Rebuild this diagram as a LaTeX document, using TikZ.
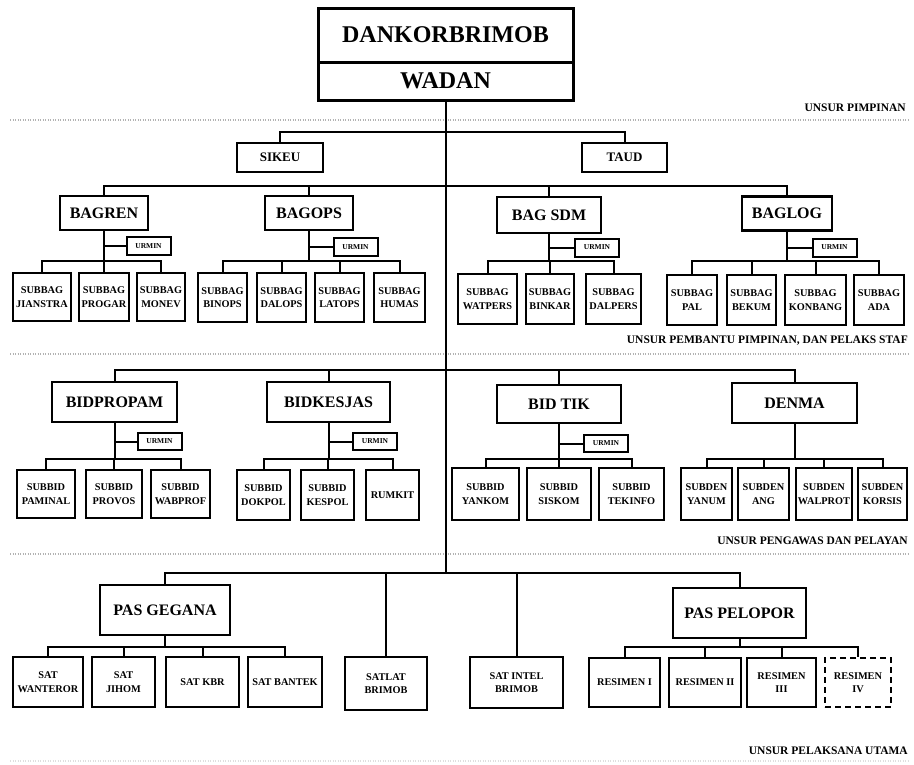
\documentclass[tikz,border=0pt]{standalone}
\usepackage{fontspec}
\setmainfont{Liberation Serif}
\usepackage{tikz}

\begin{document}
\begin{tikzpicture}[x=1pt, y=-1pt,
        topbox/.style={draw, line width=3pt, inner sep=0pt, minimum width=255pt,
            font=\fontsize{24}{26}\selectfont\bfseries},
        mainbox/.style={draw, line width=2.8pt, inner sep=0pt, align=center,
            font=\fontsize{16}{18}\selectfont\bfseries},
        staffbox/.style={mainbox, line width=2.4pt, font=\fontsize{13}{15}\selectfont\bfseries},
        subbox/.style={draw, line width=2.5pt, inner sep=0pt, align=center,
            font=\fontsize{10.3}{13.5}\selectfont\bfseries},
        urminbox/.style={draw, line width=2pt, inner sep=0pt, minimum width=44pt,
            minimum height=18pt, font=\fontsize{7.5}{8}\selectfont\bfseries},
        link/.style={line width=2pt},
        zoneline/.style={gray!60, line width=1.2pt, dash pattern=on 1pt off 1.5pt},
        zonelabel/.style={anchor=east, inner sep=0pt, font=\fontsize{11.5}{13}\selectfont\bfseries}]

        \useasboundingbox (0,0) rectangle (914,764);

        % zones
        \draw[zoneline] (10,120) -- (910,120);
        \draw[zoneline] (10,354) -- (910,354);
        \draw[zoneline] (10,554) -- (910,554);
        \draw[zoneline, gray!25] (10,761) -- (910,761);
        \node[zonelabel] (pimpinan) at (906,108) {UNSUR PIMPINAN};
        \node[zonelabel] (pembantu) at (908,341) {UNSUR PEMBANTU PIMPINAN, DAN PELAKS STAF};
        \node[zonelabel] (pengawas) at (908,541) {UNSUR PENGAWAS DAN PELAYAN};
        \node[zonelabel] (pelaksana) at (908,751) {UNSUR PELAKSANA UTAMA};

        % pimpinan
        \node[topbox, minimum height=54pt] (dankor) at (445.5,35) {DANKORBRIMOB};
        \node[topbox, minimum height=38pt] (wadan) at (445.5,81) {WADAN};

        % staf pribadi
        \node[staffbox, minimum width=86pt, minimum height=29pt] (sikeu) at (280,157.5) {SIKEU};
        \node[staffbox, minimum width=85pt, minimum height=29pt] (taud) at (624.5,157.5) {TAUD};

        % bagian
        \node[mainbox, minimum width=88pt, minimum height=34pt] (bagren) at (104,213) {BAGREN};
        \node[mainbox, minimum width=88pt, minimum height=34pt] (bagops) at (309,213) {BAGOPS};
        \node[mainbox, minimum width=104pt, minimum height=36pt] (bagsdm) at (549,215) {BAG SDM};
        \node[mainbox, minimum width=90pt, minimum height=34pt] (baglog) at (787,213.5) {BAGLOG};

        \node[urminbox] (urbagren) at (148.5,246) {URMIN};
        \node[urminbox] (urbagops) at (355.5,247) {URMIN};
        \node[urminbox] (urbagsdm) at (597,247.5) {URMIN};
        \node[urminbox] (urbaglog) at (834.5,247.5) {URMIN};

        \node[subbox, minimum width=58pt, minimum height=48pt] (jianstra) at (42,297) {SUBBAG\\JIANSTRA};
        \node[subbox, minimum width=50pt, minimum height=48pt] (progar) at (104,297) {SUBBAG\\PROGAR};
        \node[subbox, minimum width=48pt, minimum height=48pt] (monev) at (161,297) {SUBBAG\\MONEV};
        \node[subbox, minimum width=49pt, minimum height=49pt] (binops) at (222.5,297.5) {SUBBAG\\BINOPS};
        \node[subbox, minimum width=49pt, minimum height=49pt] (dalops) at (281.5,297.5) {SUBBAG\\DALOPS};
        \node[subbox, minimum width=49pt, minimum height=49pt] (latops) at (339.5,297.5) {SUBBAG\\LATOPS};
        \node[subbox, minimum width=51pt, minimum height=49pt] (humas) at (399.5,297.5) {SUBBAG\\HUMAS};
        \node[subbox, minimum width=59pt, minimum height=50pt] (watpers) at (487.5,299) {SUBBAG\\WATPERS};
        \node[subbox, minimum width=48pt, minimum height=50pt] (binkar) at (550,299) {SUBBAG\\BINKAR};
        \node[subbox, minimum width=55pt, minimum height=50pt] (dalpers) at (613.5,299) {SUBBAG\\DALPERS};
        \node[subbox, minimum width=50pt, minimum height=50pt] (pal) at (692,300) {SUBBAG\\PAL};
        \node[subbox, minimum width=49pt, minimum height=50pt] (bekum) at (751.5,300) {SUBBAG\\BEKUM};
        \node[subbox, minimum width=61pt, minimum height=50pt] (konbang) at (815.5,300) {SUBBAG\\KONBANG};
        \node[subbox, minimum width=50pt, minimum height=50pt] (ada) at (879,300) {SUBBAG\\ADA};

        % bidang
        \node[mainbox, minimum width=125pt, minimum height=40pt] (bidpropam) at (114.5,402) {BIDPROPAM};
        \node[mainbox, minimum width=123pt, minimum height=40pt] (bidkesjas) at (328.5,402) {BIDKESJAS};
        \node[mainbox, minimum width=124pt, minimum height=38pt] (bidtik) at (559,404) {BID TIK};
        \node[mainbox, minimum width=125pt, minimum height=40pt] (denma) at (794.5,403) {DENMA};

        \node[urminbox, minimum height=17pt] (urpropam) at (159.5,441.5) {URMIN};
        \node[urminbox, minimum height=17pt] (urkesjas) at (375,441.5) {URMIN};
        \node[urminbox, minimum height=17pt] (urtik) at (606,443.5) {URMIN};

        \node[subbox, minimum width=58pt, minimum height=48pt] (paminal) at (46,494) {SUBBID\\PAMINAL};
        \node[subbox, minimum width=56pt, minimum height=48pt] (provos) at (114,494) {SUBBID\\PROVOS};
        \node[subbox, minimum width=59pt, minimum height=48pt] (wabprof) at (180.5,494) {SUBBID\\WABPROF};
        \node[subbox, minimum width=53pt, minimum height=50pt] (dokpol) at (263.5,495) {SUBBID\\DOKPOL};
        \node[subbox, minimum width=53pt, minimum height=50pt] (kespol) at (327.5,495) {SUBBID\\KESPOL};
        \node[subbox, minimum width=53pt, minimum height=50pt] (rumkit) at (392.5,495) {RUMKIT};
        \node[subbox, minimum width=67pt, minimum height=52pt] (yankom) at (485.5,494) {SUBBID\\YANKOM};
        \node[subbox, minimum width=64pt, minimum height=52pt] (siskom) at (559,494) {SUBBID\\SISKOM};
        \node[subbox, minimum width=65pt, minimum height=52pt] (tekinfo) at (631.5,494) {SUBBID\\TEKINFO};
        \node[subbox, minimum width=51pt, minimum height=52pt] (yanum) at (706.5,494) {SUBDEN\\YANUM};
        \node[subbox, minimum width=51pt, minimum height=52pt] (ang) at (763.5,494) {SUBDEN\\ANG};
        \node[subbox, minimum width=56pt, minimum height=52pt] (walprot) at (824,494) {SUBDEN\\WALPROT};
        \node[subbox, minimum width=49pt, minimum height=52pt] (korsis) at (882.5,494) {SUBDEN\\KORSIS};

        % pelaksana utama
        \node[mainbox, minimum width=130pt, minimum height=50pt] (pasgegana) at (165,610) {PAS GEGANA};
        \node[mainbox, minimum width=133pt, minimum height=50pt] (paspelopor) at (739.5,613) {PAS PELOPOR};

        \node[subbox, minimum width=70pt, minimum height=50pt] (wanteror) at (48,682) {SAT\\WANTEROR};
        \node[subbox, minimum width=63pt, minimum height=50pt] (jihom) at (123.5,682) {SAT\\JIHOM};
        \node[subbox, minimum width=73pt, minimum height=50pt] (kbr) at (202.5,682) {SAT KBR};
        \node[subbox, minimum width=74pt, minimum height=50pt] (bantek) at (285,682) {SAT BANTEK};
        \node[subbox, minimum width=82pt, minimum height=53pt] (satlat) at (386,683.5) {SATLAT\\BRIMOB};
        \node[subbox, minimum width=93pt, minimum height=51pt] (satintel) at (516.5,682.5) {SAT INTEL\\BRIMOB};
        \node[subbox, minimum width=71pt, minimum height=49pt] (resa) at (624.5,682.5) {RESIMEN I};
        \node[subbox, minimum width=72pt, minimum height=49pt] (resb) at (705,682.5) {RESIMEN II};
        \node[subbox, minimum width=69pt, minimum height=49pt] (resc) at (781.5,682.5) {RESIMEN\\III};
        \node[subbox, minimum width=66pt, minimum height=49pt, dash pattern=on 6pt off 4pt] (resd) at (858,682.5) {RESIMEN\\IV};

        % garis komando
        \draw[link] (wadan.south) -- (wadan.south |- 0,573);
        \draw[link] (sikeu.north) |- (taud.north |- 0,132) -- (taud.north);
        \draw[link] (bagren.north) |- (baglog.north |- 0,186) -- (baglog.north);
        \draw[link] (bagops.north) -- (bagops.north |- 0,186);
        \draw[link] (bagsdm.north) -- (bagsdm.north |- 0,186);
        \draw[link] (bidpropam.north) |- (denma.north |- 0,370) -- (denma.north);
        \draw[link] (bidkesjas.north) -- (bidkesjas.north |- 0,370);
        \draw[link] (bidtik.north) -- (bidtik.north |- 0,370);
        \draw[link] (pasgegana.north) |- (paspelopor.north |- 0,573) -- (paspelopor.north);
        \draw[link] (satlat.north) -- (satlat.north |- 0,573);
        \draw[link] (satintel.north) -- (satintel.north |- 0,573);

        % BAGREN
        \draw[link] (bagren.south) -- (bagren.south |- 0,261);
        \draw[link] (urbagren.west) -- (urbagren.west -| bagren.south);
        \draw[link] (jianstra.north) |- (monev.north |- 0,261) -- (monev.north);
        \draw[link] (progar.north) -- (progar.north |- 0,261);
        % BAGOPS
        \draw[link] (bagops.south) -- (bagops.south |- 0,261);
        \draw[link] (urbagops.west) -- (urbagops.west -| bagops.south);
        \draw[link] (binops.north) |- (humas.north |- 0,261) -- (humas.north);
        \draw[link] (dalops.north) -- (dalops.north |- 0,261);
        \draw[link] (latops.north) -- (latops.north |- 0,261);
        % BAG SDM
        \draw[link] (bagsdm.south) -- (bagsdm.south |- 0,261);
        \draw[link] (urbagsdm.west) -- (urbagsdm.west -| bagsdm.south);
        \draw[link] (watpers.north) |- (dalpers.north |- 0,261) -- (dalpers.north);
        \draw[link] (binkar.north) -- (binkar.north |- 0,261);
        % BAGLOG
        \draw[link] (baglog.south) -- (baglog.south |- 0,261);
        \draw[link] (urbaglog.west) -- (urbaglog.west -| baglog.south);
        \draw[link] (pal.north) |- (ada.north |- 0,261) -- (ada.north);
        \draw[link] (bekum.north) -- (bekum.north |- 0,261);
        \draw[link] (konbang.north) -- (konbang.north |- 0,261);

        % BIDPROPAM
        \draw[link] (bidpropam.south) -- (bidpropam.south |- 0,459);
        \draw[link] (urpropam.west) -- (urpropam.west -| bidpropam.south);
        \draw[link] (paminal.north) |- (wabprof.north |- 0,459) -- (wabprof.north);
        \draw[link] (provos.north) -- (provos.north |- 0,459);
        % BIDKESJAS
        \draw[link] (bidkesjas.south) -- (bidkesjas.south |- 0,459);
        \draw[link] (urkesjas.west) -- (urkesjas.west -| bidkesjas.south);
        \draw[link] (dokpol.north) |- (rumkit.north |- 0,459) -- (rumkit.north);
        \draw[link] (kespol.north) -- (kespol.north |- 0,459);
        % BID TIK
        \draw[link] (bidtik.south) -- (bidtik.south |- 0,459);
        \draw[link] (urtik.west) -- (urtik.west -| bidtik.south);
        \draw[link] (yankom.north) |- (tekinfo.north |- 0,459) -- (tekinfo.north);
        \draw[link] (siskom.north) -- (siskom.north |- 0,459);
        % DENMA
        \draw[link] (denma.south) -- (denma.south |- 0,459);
        \draw[link] (yanum.north) |- (korsis.north |- 0,459) -- (korsis.north);
        \draw[link] (ang.north) -- (ang.north |- 0,459);
        \draw[link] (walprot.north) -- (walprot.north |- 0,459);

        % PAS GEGANA
        \draw[link] (pasgegana.south) -- (pasgegana.south |- 0,647);
        \draw[link] (wanteror.north) |- (bantek.north |- 0,647) -- (bantek.north);
        \draw[link] (jihom.north) -- (jihom.north |- 0,647);
        \draw[link] (kbr.north) -- (kbr.north |- 0,647);
        % PAS PELOPOR
        \draw[link] (paspelopor.south) -- (paspelopor.south |- 0,647);
        \draw[link] (resa.north) |- (resd.north |- 0,647) -- (resd.north);
        \draw[link] (resb.north) -- (resb.north |- 0,647);
        \draw[link] (resc.north) -- (resc.north |- 0,647);

    \end{tikzpicture}
\end{document}
